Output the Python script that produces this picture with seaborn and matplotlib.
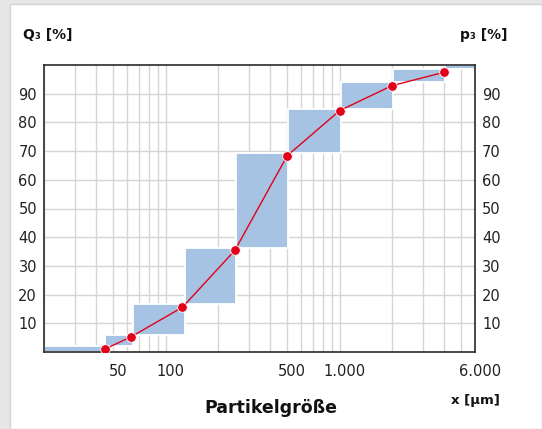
import numpy as np
import pandas as pd
import matplotlib
matplotlib.use("Agg")
import matplotlib.pyplot as plt
import seaborn as sns
from matplotlib.patches import Rectangle
from matplotlib.transforms import ScaledTranslation
from matplotlib.ticker import FixedLocator, NullFormatter

# ---- data ----
sizes = [45, 63, 125, 250, 500, 1000, 2000, 4000]          # µm, measured points
q3_cum = [1.1, 5.2, 15.6, 35.4, 68.4, 84.1, 92.8, 97.5]      # Q3 [%]
bin_edges = [20, 45, 65, 130, 255, 505, 1020, 2040, 4020, 6000]
p3 = [2.0, 4.0, 10.6, 19.8, 33.0, 15.1, 9.5, 4.6, 1.4]       # p3 [%] per bin
x_tick_vals = [50, 100, 500, 1000, 6000]
x_tick_labels = ["50", "100", "500", "1.000", "6.000"]
y_tick_vals = [10, 20, 30, 40, 50, 60, 70, 80, 90]

sns.set_style("white")
plt.rcParams['font.family'] = ['DejaVu Sans']

fig = plt.figure(figsize=(5.42, 4.29), dpi=100)
fig.patch.set_facecolor("#e6e6e6")
fig.add_artist(Rectangle((10/542, 0), 1 - 10/542, 1 - 4/429, transform=fig.transFigure,
                         facecolor="white", edgecolor="#d4d4d4", linewidth=1.0, zorder=0))

ax = fig.add_axes([44/542, 1 - 352/429, (475 - 44)/542, (352 - 65)/429])
ax.set_facecolor("white")
ax.set_xscale("log")
ax.set_xlim(20, 6000)
ax.set_ylim(0, 100)

# stacked p3 bars
bottoms = np.concatenate([[0], np.cumsum(p3)[:-1]])
lefts = np.array(bin_edges[:-1], dtype=float)
widths = np.array(bin_edges[1:], dtype=float) - lefts
ax.bar(lefts, p3, width=widths, bottom=bottoms, align="edge",
       color="#a6c3e3", edgecolor="white", linewidth=1.3, zorder=2)

df = pd.DataFrame({"x": sizes, "Q3": q3_cum})
sns.lineplot(data=df, x="x", y="Q3", ax=ax, color="#e2001a", linewidth=1.0, zorder=3)
sns.scatterplot(data=df, x="x", y="Q3", ax=ax, color="#e2001a", s=48,
                edgecolor="white", linewidth=0.6, zorder=4)

# ticks & grid
ax.xaxis.set_major_locator(FixedLocator(x_tick_vals))
ax.set_xticklabels(x_tick_labels)
minor = [v for d in (10, 100, 1000) for v in np.arange(1, 10) * d if 20 <= v <= 6000]
ax.xaxis.set_minor_locator(FixedLocator(minor))
ax.xaxis.set_minor_formatter(NullFormatter())
ax.set_yticks(y_tick_vals)
ax.grid(True, which="both", axis="x", color="#d6d6d6", linewidth=1.0, zorder=0)
ax.grid(True, which="major", axis="y", color="#d6d6d6", linewidth=1.0, zorder=0)
ax.set_axisbelow(True)
ax.tick_params(axis="x", which="both", length=0, pad=9, labelsize=10.5, colors="#222222")
ax.tick_params(axis="y", which="both", length=0, pad=5, labelsize=10.5, colors="#222222",
               labelleft=True, labelright=True)
for lab in ax.get_xticklabels():
    lab.set_transform(lab.get_transform() + ScaledTranslation(5/100, 0, fig.dpi_scale_trans))

for s in ax.spines.values():
    s.set_color("#2a2a2a")
    s.set_linewidth(1.2)
    s.set_visible(True)

ax.set_xlabel("")
ax.set_ylabel("")

fig.text(23/542, 1 - 39/429, "Q₃ [%]", fontsize=10, fontweight="bold", ha="left", va="baseline", color="#111111")
fig.text(508/542, 1 - 39/429, "p₃ [%]", fontsize=10, fontweight="bold", ha="right", va="baseline", color="#111111")
fig.text(271/542, 1 - 413/429, "Partikelgröße", fontsize=12.5, fontweight="bold", ha="center", va="baseline", color="#111111")
fig.text(500/542, 1 - 404/429, "x [µm]", fontsize=9.5, fontweight="bold", ha="right", va="baseline", color="#111111")

fig.savefig("out.png", dpi=100, facecolor=fig.get_facecolor())
